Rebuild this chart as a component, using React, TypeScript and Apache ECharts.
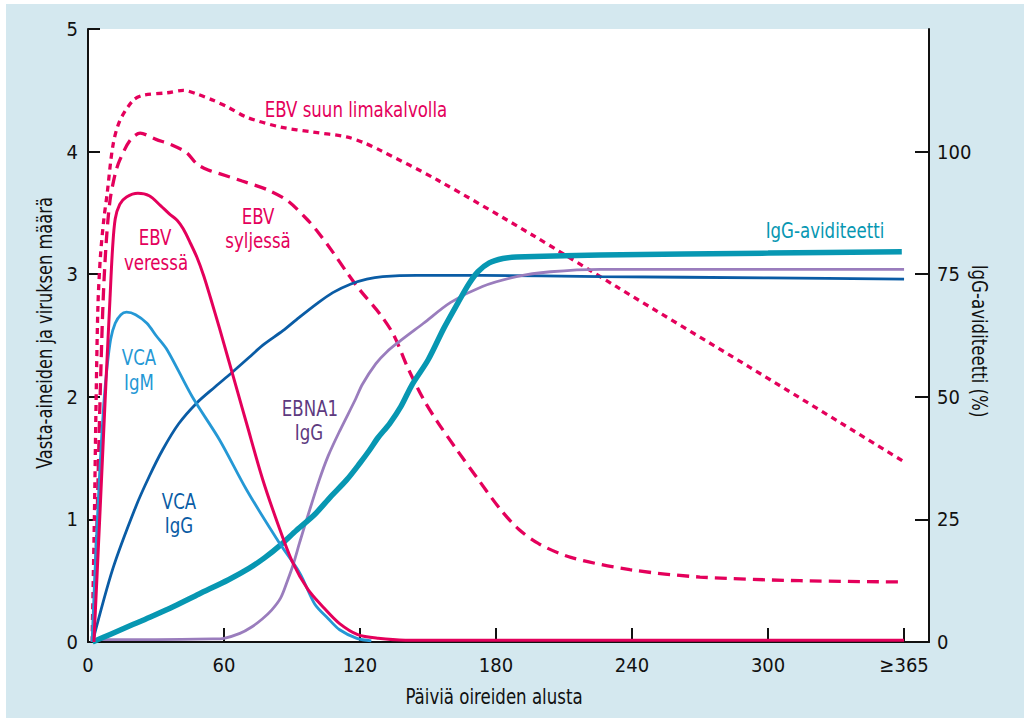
import React, { useEffect, useRef } from "react";
import * as echarts from "echarts";

// ---- axis ticks / labels ----
const xTicks = [0, 60, 120, 180, 240, 300, 360];
const xTickLabels = ["0", "60", "120", "180", "240", "300", "≥365"];
const rightTicks = [0, 25, 50, 75, 100];

// ---- series data: [day, value] ----
const ebvSuu: [number, number][] = [
  [1.8, 0], [2.8, 1.0], [3.6, 2.0], [4.4, 2.75], [5.5, 3.15], [7, 3.45], [8.4, 3.65],
  [11, 4.05], [14, 4.25], [20, 4.42], [24.5, 4.46], [35, 4.48], [42, 4.5], [48, 4.47],
  [55, 4.42], [62, 4.36], [70, 4.28], [85, 4.2], [99, 4.16], [114, 4.12], [122, 4.07],
  [129, 4.01], [154, 3.77], [196, 3.32], [233, 2.9], [292, 2.24], [360, 1.47],
];

const ebvSylki: [number, number][] = [
  [2.5, 0], [4, 1.0], [5.2, 1.9], [6.6, 2.75], [8, 3.25], [9.7, 3.6], [12, 3.82],
  [14, 3.93], [18.5, 4.09], [23, 4.15], [30, 4.1], [37.5, 4.05], [43.6, 3.99], [48, 3.9],
  [53, 3.85], [58, 3.82], [68, 3.76], [79, 3.69], [88, 3.6], [97, 3.44], [102, 3.33],
  [108, 3.18], [114, 3.02], [120, 2.87], [129, 2.67], [135, 2.5], [141, 2.24], [148, 1.98],
  [154, 1.8], [163, 1.56], [172, 1.33], [182, 1.08], [190, 0.92], [199, 0.8], [213, 0.69],
  [239, 0.59], [270, 0.53], [314, 0.5], [360, 0.49],
];

const ebvVeri: [number, number][] = [
  [2.6, 0], [5.2, 1.02], [8, 2.15], [9.7, 2.8], [10.8, 3.2], [12, 3.45], [14, 3.57],
  [17, 3.63], [22, 3.66], [27, 3.64], [32, 3.56], [36, 3.49], [39.3, 3.44], [42, 3.37],
  [45, 3.26], [48, 3.14], [51, 2.99], [54, 2.81], [58, 2.56], [62, 2.3], [66, 2.04],
  [70, 1.78], [77, 1.33], [84, 0.95], [90, 0.66], [97, 0.43], [104, 0.28], [111, 0.15],
  [119, 0.06], [128, 0.03], [140, 0.015], [360, 0.015],
];

const vcaIgM: [number, number][] = [
  [1.8, 0], [3.5, 0.75], [5.3, 1.43], [7, 1.95], [8.4, 2.24], [10, 2.47], [12, 2.6],
  [14.5, 2.67], [17, 2.69], [21, 2.67], [26, 2.6], [30, 2.5], [35, 2.38], [46, 2.0],
  [58, 1.65], [70, 1.24], [84, 0.82], [93.5, 0.56], [100, 0.31], [106, 0.19], [111, 0.1],
  [118.6, 0.03], [125, 0.01],
];

const vcaIgG: [number, number][] = [
  [2, 0], [11, 0.6], [21, 1.1], [27, 1.35], [33, 1.57], [40, 1.78], [48, 1.95], [56, 2.08],
  [63, 2.19], [71, 2.32], [77, 2.42], [86, 2.54], [92, 2.63], [101, 2.76], [108, 2.85],
  [116, 2.92], [123, 2.96], [130, 2.98], [145, 2.99], [174, 2.99], [226, 2.98], [300, 2.97],
  [360, 2.96],
];

const ebna1IgG: [number, number][] = [
  [2, 0.02], [30, 0.02], [55, 0.025], [60, 0.03], [67, 0.07], [72, 0.12], [77, 0.19],
  [81, 0.26], [85, 0.36], [88, 0.5], [90.5, 0.63], [93.5, 0.82], [96.5, 1.0], [102, 1.32],
  [106, 1.52], [111, 1.72], [118, 1.98], [121, 2.1], [127, 2.27], [132, 2.37], [138, 2.46],
  [148, 2.6], [160, 2.77], [174, 2.9], [189, 2.98], [204, 3.02], [226, 3.04], [300, 3.04],
  [360, 3.04],
];

// IgG avidity, % (right axis)
const avidity: [number, number][] = [
  [2, 0], [10, 1.6], [20, 3.6], [27, 5.0], [38, 7.3], [49, 9.8], [62, 12.7], [71, 15.0],
  [78, 17.2], [85, 19.8], [92, 22.8], [100, 26.0], [107, 29.6], [114, 33.0], [120, 36.5],
  [124, 39.0], [128, 41.7], [133, 44.5], [138, 48.0], [143, 52.5], [150, 57.5], [157, 64.0],
  [163, 69.0], [168, 73.0], [172, 75.5], [177, 77.3], [183, 78.2], [189, 78.5], [226, 78.9],
  [300, 79.3], [359, 79.6],
];

const PINK = "#e4005b";
const LBLUE = "#2598d5";
const DBLUE = "#0a5ca5";
const PURPLE = "#9a7dbd";
const PURPLE_TXT = "#5e3a80";
const TEAL = "#0797b2";
const FONT = "'Liberation Sans Narrow', 'DejaVu Sans Condensed', 'Open Sans', sans-serif";

function txt(text: string, x: number, y: number, color: string, extra: any = {}) {
  return {
    type: "text",
    x,
    y,
    scaleX: 0.88,
    silent: true,
    z: 100,
    ...extra,
    style: {
      text,
      fill: color,
      font: `21px ${FONT}`,
      textAlign: "center",
      textVerticalAlign: "middle",
    },
  };
}

export default function App() {
  const ref = useRef<HTMLDivElement>(null);
  useEffect(() => {
    if (!ref.current) return;
    const chart = echarts.init(ref.current, undefined, { renderer: "svg" });
    const axisLine = { show: true, lineStyle: { color: "#111", width: 2 } };
    const labelStyle = { color: "#111", fontSize: 20, fontFamily: FONT };
    const line = (data: any, color: string, width: number, type: any = "solid", yAxisIndex = 0) => ({
      type: "line",
      data,
      yAxisIndex,
      smooth: 0.3,
      showSymbol: false,
      symbol: "none",
      silent: true,
      lineStyle: { color, width, type, cap: "butt" },
    });
    chart.setOption({
      animation: false,
      grid: { left: 88, right: 95, top: 29, bottom: 76, show: true, backgroundColor: "#fff", borderWidth: 0 },
      xAxis: {
        type: "value",
        min: 0,
        max: 371,
        axisLine: { ...axisLine, onZero: false },
        axisTick: { show: true, inside: true, length: 14, lineStyle: { color: "#111", width: 2 }, customValues: xTicks },
        axisLabel: {
          ...labelStyle,
          margin: 13,
          customValues: xTicks,
          formatter: (v: number) => {
            const i = xTicks.indexOf(v);
            return i >= 0 ? xTickLabels[i] : "";
          },
        },
        splitLine: { show: false },
      },
      yAxis: [
        {
          type: "value",
          min: 0,
          max: 5,
          interval: 1,
          position: "left",
          axisLine,
          axisTick: { show: true, inside: true, length: 12, lineStyle: { color: "#111", width: 2 } },
          axisLabel: { ...labelStyle, margin: 10 },
          splitLine: { show: false },
        },
        {
          type: "value",
          min: 0,
          max: 125,
          interval: 25,
          position: "right",
          axisLine,
          axisTick: { show: true, inside: true, length: 14, lineStyle: { color: "#111", width: 2 }, customValues: rightTicks },
          axisLabel: { ...labelStyle, margin: 8, customValues: rightTicks },
          splitLine: { show: false },
        },
      ],
      series: [
        line(ebvSuu, PINK, 3.3, [6, 5]),
        line(ebvSylki, PINK, 3.3, [12, 7]),
        line(vcaIgG, DBLUE, 2.8),
        line(ebna1IgG, PURPLE, 2.8),
        line(avidity, TEAL, 5.5, "solid", 1),
        line(vcaIgM, LBLUE, 2.8),
        line(ebvVeri, PINK, 3),
      ],
      graphic: [
        txt("EBV suun limakalvolla", 356, 110, PINK),
        txt("EBV", 258, 217, PINK),
        txt("syljessä", 258, 241, PINK),
        txt("EBV", 155, 238, PINK),
        txt("veressä", 156, 263, PINK),
        txt("VCA", 139, 358, LBLUE),
        txt("IgM", 139, 383, LBLUE),
        txt("VCA", 179, 502, DBLUE),
        txt("IgG", 179, 526, DBLUE),
        txt("EBNA1", 310, 409, PURPLE_TXT),
        txt("IgG", 309, 433, PURPLE_TXT),
        txt("IgG-aviditeetti", 825, 231, TEAL),
        txt("Päiviä oireiden alusta", 494, 697, "#111"),
        txt("Vasta-aineiden ja viruksen määrä", 45, 333, "#111", { rotation: Math.PI / 2, scaleX: 0.86 }),
        txt("IgG-aviditeetti (%)", 979, 341, "#111", { rotation: -Math.PI / 2, scaleX: 0.88 }),
      ],
    });
    return () => chart.dispose();
  }, []);
  return (
    <div style={{ position: "absolute", left: 0, top: 0, width: 1024, height: 718, background: "#fff" }}>
      <div style={{ position: "absolute", left: 6, top: 4, right: 0, bottom: 0, background: "#d4e8ef" }} />
      <div ref={ref} style={{ position: "absolute", left: 0, top: 0, width: 1024, height: 718 }} />
    </div>
  );
}
